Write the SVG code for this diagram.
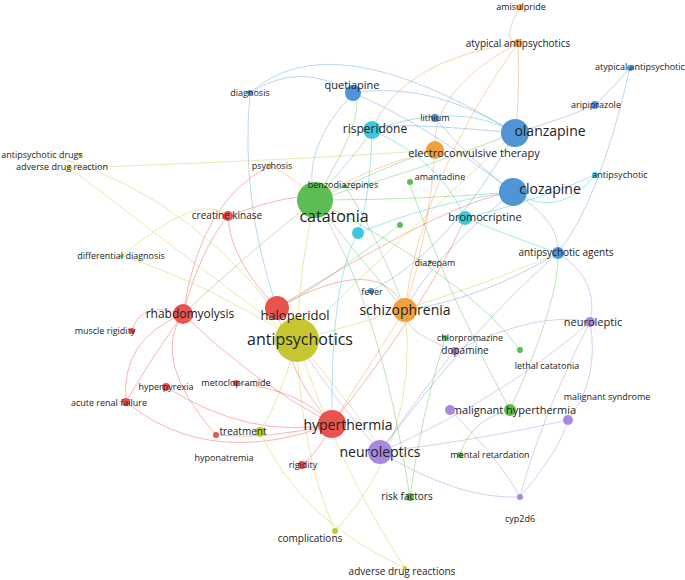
<svg xmlns="http://www.w3.org/2000/svg" width="685" height="580" viewBox="0 0 685 580">
<style>
text{font-family:"Open Sans","Noto Sans",sans-serif;fill:#222;text-anchor:middle}
.e path{fill:none;stroke-width:1;opacity:.45}
.r{stroke:#e8605a}.y{stroke:#cccc44}.g{stroke:#6cc060}.b{stroke:#6aa2d8}.c{stroke:#3cc8d8}.o{stroke:#f0a048}.p{stroke:#b090e0}
.R{fill:#e8534f}.Y{fill:#c6c632}.G{fill:#5cbd54}.B{fill:#4f94d4}.C{fill:#3cc8dc}.O{fill:#f2a03c}.P{fill:#a988e0}
</style>
<rect width="685" height="580" fill="#fff"/>
<g class="e">
<path class="r" d="M277,308 Q230,260 228,216"/><path class="r" d="M183,314 Q200,250 228,216"/><path class="r" d="M183,314 Q150,360 126,402"/><path class="r" d="M183,314 Q250,380 332,424"/><path class="r" d="M126,402 Q210,470 332,424"/><path class="r" d="M166,387 Q250,440 332,424"/><path class="r" d="M216,435 Q270,440 332,424"/><path class="r" d="M132,331 Q140,300 183,314"/><path class="r" d="M277,308 Q290,380 332,424"/><path class="r" d="M332,424 Q320,450 302,465"/><path class="r" d="M236,383 Q300,390 332,424"/><path class="r" d="M228,216 Q300,190 315,200"/><path class="r" d="M277,308 Q380,250 405,310"/><path class="r" d="M183,314 Q200,200 270,166"/><path class="r" d="M332,424 Q430,300 465,218"/><path class="r" d="M216,435 Q150,360 183,314"/><path class="r" d="M126,402 Q120,340 183,314"/><path class="r" d="M277,308 Q450,200 513,192"/>
<path class="y" d="M297,340 Q200,200 60,158"/><path class="y" d="M297,340 Q150,230 70,168"/><path class="y" d="M297,340 Q200,280 122,256"/><path class="y" d="M297,340 Q280,400 260,432"/><path class="y" d="M297,340 Q300,450 335,531"/><path class="y" d="M297,340 Q340,470 405,568"/><path class="y" d="M297,340 Q420,220 515,133"/><path class="y" d="M297,340 Q300,260 315,200"/><path class="y" d="M260,432 Q300,520 405,568"/><path class="y" d="M335,531 Q420,440 405,310"/><path class="y" d="M70,168 Q300,160 435,150"/><path class="y" d="M297,340 Q380,440 380,452"/><path class="y" d="M122,256 Q200,190 228,216"/><path class="y" d="M297,340 Q450,300 558,253"/>
<path class="g" d="M315,200 Q420,170 515,133"/><path class="g" d="M315,200 Q400,160 435,150"/><path class="g" d="M315,200 Q420,200 513,192"/><path class="g" d="M315,200 Q360,260 405,310"/><path class="g" d="M315,200 Q380,300 410,497"/><path class="g" d="M315,200 Q470,280 520,350"/><path class="g" d="M410,185 Q450,300 510,410"/><path class="g" d="M315,200 Q360,150 372,130"/><path class="g" d="M510,410 Q470,420 460,455"/><path class="g" d="M445,338 Q420,420 410,497"/><path class="g" d="M315,200 Q240,260 183,314"/><path class="g" d="M400,225 Q300,300 277,308"/><path class="g" d="M345,186 Q380,240 405,310"/><path class="g" d="M315,200 Q370,110 353,93"/><path class="g" d="M510,410 Q560,300 558,253"/>
<path class="b" d="M515,133 Q430,80 353,93"/><path class="b" d="M513,192 Q420,120 353,93"/><path class="b" d="M250,93 Q300,60 353,93"/><path class="b" d="M250,93 Q240,200 277,308"/><path class="b" d="M515,133 Q560,120 595,105"/><path class="b" d="M595,105 Q620,80 630,68"/><path class="b" d="M513,192 Q560,220 558,253"/><path class="b" d="M515,133 Q450,250 371,291"/><path class="b" d="M353,93 Q300,150 315,200"/><path class="b" d="M435,118 Q470,160 513,192"/><path class="b" d="M558,253 Q480,300 405,310"/><path class="b" d="M630,68 Q600,200 558,253"/><path class="b" d="M513,192 Q430,260 405,310"/><path class="b" d="M515,133 Q380,120 372,130"/><path class="b" d="M250,93 Q330,20 515,133"/><path class="b" d="M558,253 Q470,330 380,452"/>
<path class="c" d="M372,130 Q440,160 465,218"/><path class="c" d="M358,233 Q440,200 513,192"/><path class="c" d="M465,218 Q540,200 595,175"/><path class="c" d="M372,130 Q460,100 515,133"/><path class="c" d="M358,233 Q330,280 332,424"/><path class="c" d="M465,218 Q520,240 558,253"/><path class="c" d="M372,130 Q370,200 358,233"/><path class="c" d="M595,175 Q560,220 513,192"/>
<path class="o" d="M518,43 Q520,100 515,133"/><path class="o" d="M518,43 Q430,90 435,150"/><path class="o" d="M518,43 Q400,60 372,130"/><path class="o" d="M520,8 Q500,40 518,43"/><path class="o" d="M405,310 Q430,230 435,150"/><path class="o" d="M435,150 Q360,170 315,200"/><path class="o" d="M518,43 Q420,180 405,310"/><path class="o" d="M270,166 Q300,180 315,200"/><path class="o" d="M405,310 Q360,380 332,424"/>
<path class="p" d="M380,452 Q430,380 455,351"/><path class="p" d="M380,452 Q500,400 590,322"/><path class="p" d="M380,452 Q480,440 568,420"/><path class="p" d="M380,452 Q460,500 520,497"/><path class="p" d="M455,351 Q540,310 590,322"/><path class="p" d="M590,322 Q600,380 568,420"/><path class="p" d="M520,497 Q560,450 568,420"/><path class="p" d="M450,410 Q500,460 520,497"/><path class="p" d="M558,253 Q600,280 590,322"/><path class="p" d="M380,452 Q320,380 297,340"/><path class="p" d="M455,351 Q400,330 405,310"/><path class="p" d="M520,497 Q540,420 590,322"/>
</g>
<g id="n_catatonia"><circle class="G" cx="315" cy="200" r="18"/><text x="334" y="222" font-size="16">catatonia</text></g>
<g id="n_antipsychotics"><circle class="Y" cx="297" cy="340" r="22"/><text x="300" y="345" font-size="16">antipsychotics</text></g>
<g id="n_hyperthermia"><circle class="R" cx="332" cy="424" r="14"/><text x="348" y="430" font-size="14">hyperthermia</text></g>
<g id="n_haloperidol"><circle class="R" cx="277" cy="308" r="12"/><text x="295" y="320" font-size="13">haloperidol</text></g>
<g id="n_rhabdomyolysis"><circle class="R" cx="183" cy="314" r="10"/><text x="190" y="318" font-size="12">rhabdomyolysis</text></g>
<g id="n_ck"><circle class="R" cx="228" cy="216" r="5"/><text x="227" y="219" font-size="10">creatine kinase</text></g>
<g id="n_mr"><circle class="R" cx="132" cy="331" r="3"/><text x="105" y="334" font-size="9">muscle rigidity</text></g>
<g id="n_hp"><circle class="R" cx="166" cy="387" r="4"/><text x="166" y="390" font-size="9">hyperpyrexia</text></g>
<g id="n_meto"><circle class="R" cx="236" cy="383" r="3"/><text x="236" y="386" font-size="9">metoclopramide</text></g>
<g id="n_arf"><circle class="R" cx="126" cy="402" r="4"/><text x="109" y="406" font-size="9">acute renal failure</text></g>
<g id="n_hypo"><circle class="R" cx="216" cy="435" r="3"/><text x="224" y="461" font-size="9">hyponatremia</text></g>
<g id="n_rig"><circle class="R" cx="302" cy="465" r="4"/><text x="303" y="468" font-size="9">rigidity</text></g>
<g id="n_treat"><circle class="Y" cx="260" cy="432" r="5"/><text x="243" y="435" font-size="10">treatment</text></g>
<g id="n_apd"><circle class="Y" cx="80" cy="155" r="2"/><text x="42" y="158" font-size="9">antipsychotic drugs</text></g>
<g id="n_adr"><circle class="Y" cx="70" cy="168" r="2"/><text x="62" y="170" font-size="9">adverse drug reaction</text></g>
<g id="n_dd"><circle class="Y" cx="122" cy="256" r="2"/><text x="121" y="259" font-size="9">differential diagnosis</text></g>
<g id="n_comp"><circle class="Y" cx="335" cy="531" r="3"/><text x="310" y="542" font-size="10">complications</text></g>
<g id="n_adrs"><circle class="Y" cx="405" cy="568" r="2"/><text x="402" y="575" font-size="10">adverse drug reactions</text></g>
<g id="n_benzo"><circle class="G" cx="345" cy="186" r="2"/><text x="343" y="188" font-size="9">benzodiazepines</text></g>
<g id="n_amant"><circle class="G" cx="410" cy="182" r="3"/><text x="440" y="180" font-size="9">amantadine</text></g>
<g id="n_gdot"><circle class="G" cx="400" cy="225" r="3"/></g>
<g id="n_diaz"><circle class="G" cx="430" cy="262" r="2"/><text x="435" y="266" font-size="9">diazepam</text></g>
<g id="n_chlor"><circle class="G" cx="445" cy="338" r="3"/><text x="470" y="341" font-size="9">chlorpromazine</text></g>
<g id="n_lc"><circle class="G" cx="520" cy="350" r="3"/><text x="547" y="369" font-size="9">lethal catatonia</text></g>
<g id="n_mh"><circle class="G" cx="510" cy="410" r="6"/><text x="514" y="414" font-size="11">malignant hyperthermia</text></g>
<g id="n_ment"><circle class="G" cx="460" cy="455" r="3"/><text x="490" y="458" font-size="9">mental retardation</text></g>
<g id="n_risk"><circle class="G" cx="410" cy="497" r="4"/><text x="407" y="500" font-size="10">risk factors</text></g>
<g id="n_olan"><circle class="B" cx="515" cy="133" r="14"/><text x="550" y="136" font-size="14">olanzapine</text></g>
<g id="n_cloz"><circle class="B" cx="513" cy="192" r="14"/><text x="550" y="194" font-size="14">clozapine</text></g>
<g id="n_quet"><circle class="B" cx="353" cy="93" r="8"/><text x="352" y="89" font-size="11">quetiapine</text></g>
<g id="n_diag"><circle class="B" cx="250" cy="93" r="3"/><text x="250" y="96" font-size="9">diagnosis</text></g>
<g id="n_lith"><circle class="B" cx="435" cy="118" r="4"/><text x="435" y="121" font-size="9">lithium</text></g>
<g id="n_arip"><circle class="B" cx="595" cy="105" r="4"/><text x="596" y="108" font-size="9">aripiprazole</text></g>
<g id="n_aap"><circle class="B" cx="630" cy="68" r="3"/><text x="640" y="70" font-size="9">atypical antipsychotic</text></g>
<g id="n_fever"><circle class="B" cx="371" cy="291" r="3"/><text x="372" y="295" font-size="9">fever</text></g>
<g id="n_apa"><circle class="B" cx="558" cy="253" r="6"/><text x="566" y="256" font-size="10">antipsychotic agents</text></g>
<g id="n_risp"><circle class="C" cx="372" cy="130" r="9"/><text x="375" y="133" font-size="12">risperidone</text></g>
<g id="n_bromo"><circle class="C" cx="465" cy="218" r="7"/><text x="485" y="221" font-size="11">bromocriptine</text></g>
<g id="n_antip"><circle class="C" cx="595" cy="175" r="3"/><text x="620" y="178" font-size="9">antipsychotic</text></g>
<g id="n_cdot"><circle class="C" cx="358" cy="233" r="6"/></g>
<g id="n_schizo"><circle class="O" cx="405" cy="310" r="12"/><text x="405" y="315" font-size="14">schizophrenia</text></g>
<g id="n_ect"><circle class="O" cx="435" cy="150" r="9"/><text x="474" y="157" font-size="11">electroconvulsive therapy</text></g>
<g id="n_aaps"><circle class="O" cx="518" cy="43" r="4"/><text x="518" y="47" font-size="10">atypical antipsychotics</text></g>
<g id="n_amis"><circle class="O" cx="520" cy="7" r="3"/><text x="521" y="10" font-size="9">amisulpride</text></g>
<g id="n_psych"><circle class="O" cx="270" cy="166" r="2"/><text x="272" y="169" font-size="9">psychosis</text></g>
<g id="n_neurs"><circle class="P" cx="380" cy="452" r="12"/><text x="380" y="457" font-size="14">neuroleptics</text></g>
<g id="n_dopa"><circle class="P" cx="455" cy="351" r="4"/><text x="465" y="354" font-size="10">dopamine</text></g>
<g id="n_neur"><circle class="P" cx="590" cy="322" r="5"/><text x="593" y="326" font-size="11">neuroleptic</text></g>
<g id="n_ms"><circle class="P" cx="568" cy="420" r="5"/><text x="607" y="400" font-size="9">malignant syndrome</text></g>
<g id="n_cyp"><circle class="P" cx="520" cy="497" r="3"/><text x="520" y="522" font-size="9">cyp2d6</text></g>
<g id="n_pdot"><circle class="P" cx="450" cy="410" r="5"/></g>
</svg>
